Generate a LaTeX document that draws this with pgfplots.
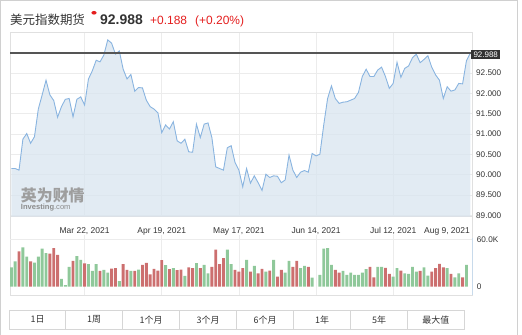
\documentclass[border=0pt]{standalone}
\usepackage{pgfplots}
\pgfplotsset{compat=1.18}
\usepackage{pgfplotstable}
\usepackage{fontspec}
\setmainfont{Liberation Sans}
\newfontfamily\cjk{Noto Sans CJK SC}
\definecolor{linec}{RGB}{137,180,224}
\definecolor{fillc}{RGB}{216,228,239}
\definecolor{gridc}{RGB}{236,236,236}
\definecolor{bordc}{RGB}{224,224,224}
\definecolor{upc}{RGB}{143,200,154}
\definecolor{dnc}{RGB}{204,111,111}
\definecolor{txtc}{RGB}{51,51,51}
\definecolor{redc}{RGB}{228,30,30}
\definecolor{refc}{RGB}{85,85,85}
\definecolor{outc}{RGB}{208,208,208}
\definecolor{btnc}{RGB}{214,214,214}
\definecolor{vborder}{RGB}{200,218,235}

\pgfplotstableread{
i v
0 90.15
1 90.15
2 90.11
3 90.87
4 91.01
5 90.77
6 90.93
7 91.61
8 91.96
9 92.32
10 91.96
11 91.82
12 91.41
13 91.67
14 91.85
15 91.87
16 91.42
17 91.85
18 91.91
19 91.71
20 92.35
21 92.55
22 92.81
23 92.77
24 92.94
25 93.31
26 93.23
27 92.96
28 93.04
29 92.59
30 92.35
31 92.46
32 92.05
33 92.14
34 92.13
35 91.83
36 91.67
37 91.61
38 91.52
39 91.03
40 91.22
41 91.12
42 91.30
43 90.83
44 90.77
45 90.87
46 90.56
47 90.55
48 91.24
49 90.91
50 91.24
51 91.27
52 90.91
53 90.19
54 90.15
55 90.11
56 90.66
57 90.71
58 90.30
59 90.11
60 89.70
61 90.15
62 89.79
63 89.97
64 89.80
65 89.61
66 90.01
67 89.93
68 89.97
69 89.96
70 89.80
71 89.87
72 90.48
73 90.11
74 89.93
75 90.06
76 90.10
77 90.06
78 90.52
79 90.46
80 90.50
81 91.22
82 91.87
83 92.18
84 91.87
85 91.75
86 91.78
87 91.79
88 91.83
89 91.87
90 92.02
91 92.41
92 92.59
93 92.41
94 92.41
95 92.57
96 92.64
97 92.41
98 92.12
99 92.24
100 92.76
101 92.39
102 92.61
103 92.67
104 92.87
105 92.96
106 92.75
107 92.83
108 92.92
109 92.64
110 92.45
111 92.32
112 91.87
113 92.16
114 92.05
115 92.08
116 92.24
117 92.23
118 92.80
119 92.988
}\price

\pgfplotstableread{
i v
0 24.3
1 31.9
3 49.8
4 37.9
6 30.6
7 37.9
8 48.1
9 42.6
13 9.8
14 2.1
15 25.1
17 38.7
18 34.0
20 28.5
21 20.0
22 28.5
24 21.3
25 17.9
28 7.2
31 20.0
33 21.7
40 27.2
42 23.4
45 13.6
48 29.8
50 27.7
51 17.0
56 46.8
57 28.5
61 34.0
63 26.4
66 19.1
68 34.0
71 17.9
72 32.8
75 23.4
76 26.4
78 11.5
80 14.9
81 48.1
82 48.9
83 27.7
86 20.0
87 14.9
88 17.9
89 14.9
90 14.9
91 17.9
92 22.1
95 25.1
96 25.1
99 12.8
100 23.4
102 17.0
103 16.2
104 25.1
105 19.1
107 24.3
108 14.0
113 23.4
115 11.9
116 17.0
118 27.7
}\volup

\pgfplotstableread{
i v
2 44.7
5 31.9
10 41.7
11 48.9
12 40.4
16 32.8
19 29.4
23 20.0
26 23.0
27 23.4
29 28.5
30 21.3
32 20.0
34 27.7
35 30.2
36 15.7
37 22.6
38 20.4
39 33.6
41 22.1
43 20.9
44 21.7
46 24.3
47 23.4
49 23.4
52 25.1
53 46.8
54 28.5
55 36.2
58 21.3
59 19.1
60 23.4
62 19.1
64 17.0
65 22.6
67 20.4
69 12.8
70 21.3
73 25.1
74 32.8
77 25.1
84 21.3
85 17.9
93 25.1
94 11.9
97 23.8
98 16.2
101 20.4
106 20.0
109 19.1
110 23.4
111 28.9
112 24.3
114 16.2
117 11.9
}\voldn

\begin{document}
\begin{tikzpicture}
\path[use as bounding box] (0,0) rectangle (522bp,335bp);
% outer frame
\draw[outc, line width=1bp] (0.8bp,0) -- (0.8bp,334.2bp) -- (517bp,334.2bp) -- (517bp,0);
% panel frame
\draw[bordc, line width=0.8bp] (10bp,303bp) rectangle (472bp,40bp);

% price axis
\begin{axis}[
  at={(10bp,118.3bp)}, anchor=south west,
  scale only axis, width=462bp, height=184.7bp,
  xmin=-0.34, xmax=119.44, ymin=88.966, ymax=93.504,
  axis line style={draw=bordc},
  xtick={19,39,59,79,99},
  xticklabels={{Mar 22, 2021},{Apr 19, 2021},{May 17, 2021},{Jun 14, 2021},{Jul 12, 2021}},
  xticklabel style={font=\fontsize{8.5}{10}\selectfont, text=txtc, anchor=base, yshift=-16.8bp, inner sep=0pt},
  ytick={89,89.5,90,90.5,91,91.5,92,92.5,93},
  yticklabels={89.000,89.500,90.000,90.500,91.000,91.500,92.000,92.500},
  yticklabel pos=right,
  yticklabel style={font=\fontsize{8.2}{10}\selectfont, text=txtc, anchor=west, inner sep=0pt, xshift=4bp},
  major tick length=0pt,
  grid=major, grid style={draw=gridc, line width=0.6bp},
]
\addplot[fill=fillc, fill opacity=0.75, draw=none] table[x=i,y=v]{\price} \closedcycle;
\addplot[draw=linec, line width=0.9bp] table[x=i,y=v]{\price};
\addplot[draw=refc, line width=1.2bp] coordinates {(-0.34,92.988) (119.44,92.988)};
\end{axis}

% volume axis
\begin{axis}[
  at={(10bp,40bp)}, anchor=south west,
  scale only axis, width=462bp, height=60bp,
  xmin=-0.34, xmax=119.44, ymin=-10.5, ymax=65.4,
  axis line style={draw=none},
  xtick={19,39,59,79,99}, xticklabels={},
  ytick={60}, yticklabels={60.0K},
  extra y ticks={0}, extra y tick labels={0}, extra y tick style={grid=none},
  yticklabel pos=right,
  yticklabel style={font=\fontsize{8.2}{10}\selectfont, text=txtc, anchor=west, inner sep=0pt, xshift=4.7bp},
  major tick length=0pt,
  grid=major, grid style={draw=gridc, line width=0.6bp},
  ybar, bar width=2.9bp,
]
\addplot[fill=upc, draw=none, bar shift=0pt] table[x=i,y=v]{\volup};
\addplot[fill=dnc, draw=none, bar shift=0pt] table[x=i,y=v]{\voldn};
\end{axis}
\draw[vborder, line width=0.8bp] (472.5bp,40bp) -- (472.5bp,97bp);

% Aug 9 label
\node[anchor=base, inner sep=0pt, font=\fontsize{8.5}{10}\selectfont, text=txtc] at (447bp,101.5bp) {Aug 9, 2021};

% current value box
\node[fill=txtc, text=white, font=\fontsize{8}{9}\selectfont, inner xsep=2.3bp, inner ysep=0pt, minimum height=9.5bp, anchor=west] at (471bp,280.4bp) {92.988};

% watermark
\node[anchor=west, inner sep=0pt, font=\cjk\bfseries\fontsize{16}{18}\selectfont, text=black!38] at (20.7bp,139.5bp) {英为财情};
\node[anchor=west, inner sep=0pt, font=\bfseries\fontsize{7.6}{9}\selectfont, text=black!45] at (20.7bp,127.8bp) {Investing\textmd{.com}};

% title
\node[anchor=base west, inner sep=0pt, font=\cjk\fontsize{12.5}{14}\selectfont, text=txtc] at (10bp,310.5bp) {美元指数期货};
\fill[redc] (94bp,322.2bp) ellipse (2.6bp and 1.8bp);
\node[anchor=base west, inner sep=0pt, font=\bfseries\fontsize{14}{16}\selectfont, text=txtc] at (100bp,310bp) {92.988};
\node[anchor=base west, inner sep=0pt, font=\fontsize{12}{14}\selectfont, text=redc] at (150bp,310bp) {+0.188};
\node[anchor=base west, inner sep=0pt, font=\fontsize{12}{14}\selectfont, text=redc] at (195bp,310bp) {(+0.20\%)};

% buttons
\draw[btnc, line width=0.8bp] (9.3bp,5.7bp) rectangle (464.3bp,25bp);
\foreach \xx in {65.7,122.7,179.7,236.7,293.7,350.7,407.3}{
  \draw[btnc, line width=0.8bp] (\xx bp,5.7bp) -- (\xx bp,25bp);
}
\foreach \xc/\lab in {37.5/1日,94.2/1周,151.2/1个月,208.2/3个月,265.2/6个月,322.2/1年,379/5年,435.8/最大值}{
  \node[inner sep=0pt, font=\cjk\fontsize{9}{10}\selectfont, text=txtc] at (\xc bp,15.35bp) {\lab};
}
\end{tikzpicture}
\end{document}
